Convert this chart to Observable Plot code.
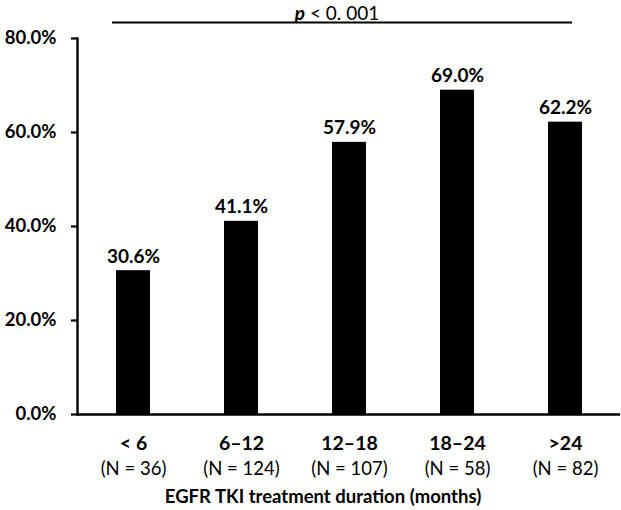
<!DOCTYPE html>
<html>
<head>
<meta charset="utf-8">
<script src="https://cdn.jsdelivr.net/npm/d3@7"></script>
<script src="https://cdn.jsdelivr.net/npm/@observablehq/plot@0.6"></script>
<style>
  html, body { margin: 0; padding: 0; background: #fff; }
  #chart svg { display: block; }
</style>
</head>
<body>
<div id="chart"></div>
<script>
const categories = ["< 6", "6–12", "12–18", "18–24", ">24"];
const counts = ["(N = 36)", "(N = 124)", "(N = 107)", "(N = 58)", "(N = 82)"];
const percents = [30.6, 41.1, 57.9, 69.0, 62.2];
const yTicks = [0, 20, 40, 60, 80];
const xTitle = "EGFR TKI treatment duration (months)";
const pText = "p < 0. 001";

const data = categories.map((c, i) => ({category: c, value: percents[i], n: counts[i]}));
const font = "Lato, 'Open Sans', sans-serif";

const chart = Plot.plot({
  width: 621,
  height: 510,
  marginLeft: 77,
  marginRight: 1,
  marginTop: 38,
  marginBottom: 96,
  style: {fontFamily: font, background: "#fff", color: "#000", overflow: "visible"},
  x: {domain: categories, paddingInner: 0.687, paddingOuter: 0.3435},
  y: {domain: [0, 80]},
  marks: [
    Plot.barY(data, {x: "category", y: "value", fill: "#000"}),
    Plot.text(data, {x: "category", y: "value", text: d => d.value.toFixed(1) + "%", lineAnchor: "bottom", dy: -8, fontSize: 19, fontWeight: "bold", fill: "#000"}),
    Plot.axisY({ticks: yTicks, tickFormat: d => d.toFixed(1) + "%", tickSize: 6, tickPadding: 15, strokeWidth: 2.2, fontSize: 18.5, fontWeight: "bold", label: null}),
    Plot.frame({anchor: "left", strokeWidth: 2.4}),
    Plot.ruleY([0], {strokeWidth: 2.4}),
    Plot.axisX({tickSize: 0, tickPadding: 22, fontSize: 19.5, fontWeight: "bold", label: null}),
    Plot.axisX({tickSize: 0, tickPadding: 47, fontSize: 18.5, tickFormat: (d) => counts[categories.indexOf(d)], label: null}),
    Plot.text([xTitle], {frameAnchor: "bottom", lineAnchor: "middle", dy: 83, dx: -26, fontSize: 18.5, fontWeight: "bold", fill: "#000"}),
    Plot.ruleY([{y: 80, x1: categories[0], x2: categories[categories.length - 1]}], {y: "y", x1: "x1", x2: "x2", dy: -16, insetLeft: -4, insetRight: 10, strokeWidth: 2.2}),
    Plot.text([pText], {frameAnchor: "top", lineAnchor: "middle", dy: -25, dx: -12, fontSize: 19, fill: "#000"})
  ]
});
document.getElementById("chart").appendChild(chart);

// italicize the "p"
d3.select(chart).selectAll("text").filter(function() { return this.textContent === pText; })
  .each(function() {
    const t = d3.select(this);
    t.text(null);
    t.append("tspan").attr("font-style", "italic").attr("font-weight", "bold").text("p");
    t.append("tspan").text(pText.slice(1));
  });
</script>
</body>
</html>
